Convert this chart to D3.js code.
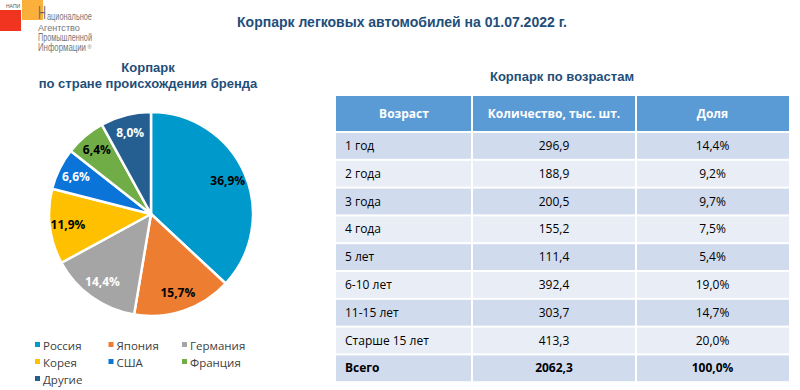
<!DOCTYPE html>
<html>
<head>
<meta charset="utf-8">
<script src="https://cdn.jsdelivr.net/npm/d3@7"></script>
<style>
  body { margin: 0; background: #fff; }
  svg { display: block; }
  .ttl { font-family: "Liberation Sans", Arial, sans-serif; font-weight: bold; fill: #1F4E79; }
  .cal { font-family: "Open Sans", "Noto Sans", sans-serif; }
</style>
</head>
<body>
<div id="chart"></div>
<script>
// pie: share of car park by brand origin country
var countries = ['Россия', 'Япония', 'Германия', 'Корея', 'США', 'Франция', 'Другие'];
var shares = [36.9, 15.7, 14.4, 11.9, 6.6, 6.4, 8.0];
var sliceColors = ['#0099CC', '#ED7D31', '#A5A5A5', '#FFC000', '#0A74D8', '#70AD47', '#255E91'];
var labelColors = ['#000', '#000', '#fff', '#000', '#fff', '#000', '#fff'];

// table: car park by age
var tableHead = ['Возраст', 'Количество, тыс. шт.', 'Доля'];
var ages = ['1 год', '2 года', '3 года', '4 года', '5 лет', '6-10 лет', '11-15 лет', 'Старше 15 лет', 'Всего'];
var counts = ['296,9', '188,9', '200,5', '155,2', '111,4', '392,4', '303,7', '413,3', '2062,3'];
var ageShares = ['14,4%', '9,2%', '9,7%', '7,5%', '5,4%', '19,0%', '14,7%', '20,0%', '100,0%'];

var svg = d3.select('#chart').append('svg')
  .attr('width', 800)
  .attr('height', 390);

// logo
var logoFont = 'Liberation Sans, sans-serif';
svg.append('rect').attr('x', 22).attr('y', 0).attr('width', 21).attr('height', 20).attr('fill', '#FBB03B');
svg.append('rect').attr('x', 0).attr('y', 10).attr('width', 21).attr('height', 21).attr('fill', '#F0341F');
svg.append('text').attr('x', 6).attr('y', 8).attr('font-size', 5)
  .attr('font-family', logoFont).attr('fill', '#555').text('НАПИ');

// condensed logo lettering: squeeze each line horizontally to its width
var logoItems = [
  { t: 'Н', x: 38, y: 18.5, size: 18, w: 8, c: '#6b6b6b' },
  { t: 'ациональное', x: 47, y: 19.5, size: 10, w: 45, c: '#777' },
  { t: 'Агентство', x: 38, y: 30.8, size: 9.5, w: 42, c: '#777' },
  { t: 'Промышленной', x: 38, y: 40.8, size: 10, w: 54, c: '#777' },
  { t: 'Информации', x: 38, y: 50.8, size: 10, w: 48, c: '#777' },
  { t: '®', x: 87.5, y: 48.5, size: 5, w: 4, c: '#777' }
];
svg.selectAll('.logo').data(logoItems).enter().append('text')
  .attr('class', 'logo')
  .attr('font-family', logoFont)
  .attr('font-size', function (d) { return d.size; })
  .attr('fill', function (d) { return d.c; })
  .text(function (d) { return d.t; })
  .attr('transform', function (d) {
    var k = d.w / this.getComputedTextLength();
    return 'translate(' + d.x + ',' + d.y + ') scale(' + k + ',1)';
  });

svg.append('text').attr('class', 'ttl')
  .attr('x', 402).attr('y', 27).attr('text-anchor', 'middle').attr('font-size', 14)
  .text('Корпарк легковых автомобилей на 01.07.2022 г.');

// pie
svg.append('text').attr('class', 'ttl').attr('x', 148).attr('y', 72)
  .attr('text-anchor', 'middle').attr('font-size', 13).text('Корпарк');
svg.append('text').attr('class', 'ttl').attr('x', 148).attr('y', 88)
  .attr('text-anchor', 'middle').attr('font-size', 13).text('по стране происхождения бренда');

var cx = 151, cy = 214, r = 102;
var pie = d3.pie().sort(null).value(function (d) { return d; });
var arcs = pie(shares);
var arc = d3.arc().innerRadius(0).outerRadius(r);
var labelArc = d3.arc().innerRadius(r * 0.82).outerRadius(r * 0.82);

var g = svg.append('g').attr('transform', 'translate(' + cx + ',' + cy + ')');
g.selectAll('path').data(arcs).enter().append('path')
  .attr('d', arc)
  .attr('fill', function (d, i) { return sliceColors[i]; })
  .attr('stroke', '#fff')
  .attr('stroke-width', 2.5)
  .attr('stroke-linejoin', 'round');

g.selectAll('.lbl').data(arcs).enter().append('text')
  .attr('class', 'lbl cal')
  .attr('transform', function (d) { return 'translate(' + labelArc.centroid(d) + ')'; })
  .attr('text-anchor', 'middle')
  .attr('dy', '0.35em')
  .attr('font-size', 12)
  .attr('font-weight', 'bold')
  .attr('fill', function (d, i) { return labelColors[i]; })
  .text(function (d, i) { return shares[i].toFixed(1).replace('.', ',') + '%'; });

var legend = svg.selectAll('.leg').data(countries).enter().append('g')
  .attr('class', 'leg')
  .attr('transform', function (d, i) {
    return 'translate(' + (35 + (i % 3) * 73.5) + ',' + (346 + Math.floor(i / 3) * 17) + ')';
  });
legend.append('rect').attr('x', 0).attr('y', -4).attr('width', 5).attr('height', 5)
  .attr('fill', function (d, i) { return sliceColors[i]; });
legend.append('text').attr('class', 'cal').attr('x', 8).attr('y', 0).attr('dy', '0.35em')
  .attr('font-size', 11.5).attr('fill', '#404040').text(function (d) { return d; });

// table
svg.append('text').attr('class', 'ttl').attr('x', 562).attr('y', 81)
  .attr('text-anchor', 'middle').attr('font-size', 13).text('Корпарк по возрастам');

var colX = [336, 472, 636, 789];
var headTop = 96, headH = 35, rowTop = 133, rowH = 27.8, gap = 2;

var rows = ages.map(function (a, i) { return [a, counts[i], ageShares[i]]; });

var head = svg.append('g');
tableHead.forEach(function (h, j) {
  head.append('rect')
    .attr('x', colX[j] + (j ? 1 : 0)).attr('y', headTop)
    .attr('width', colX[j + 1] - colX[j] - (j ? 1 : 0) - (j < 2 ? 1 : 0)).attr('height', headH)
    .attr('fill', '#5B9BD5');
  head.append('text').attr('class', 'cal')
    .attr('x', (colX[j] + colX[j + 1]) / 2).attr('y', headTop + headH / 2).attr('dy', '0.35em')
    .attr('text-anchor', 'middle').attr('font-size', 12).attr('font-weight', 'bold')
    .attr('fill', '#fff').text(h);
});

var tr = svg.selectAll('.row').data(rows).enter().append('g')
  .attr('class', 'row')
  .attr('transform', function (d, i) { return 'translate(0,' + (rowTop + i * rowH) + ')'; });

[0, 1, 2].forEach(function (j) {
  tr.append('rect')
    .attr('x', colX[j] + (j ? 1 : 0)).attr('y', 0)
    .attr('width', colX[j + 1] - colX[j] - (j ? 1 : 0) - (j < 2 ? 1 : 0))
    .attr('height', rowH - gap)
    .attr('fill', function (d, i) { return i % 2 === 0 ? '#D0DBEE' : '#E9EDF5'; });
  tr.append('text').attr('class', 'cal')
    .attr('x', j === 0 ? colX[0] + 9 : (colX[j] + colX[j + 1]) / 2)
    .attr('y', (rowH - gap) / 2).attr('dy', '0.35em')
    .attr('text-anchor', j === 0 ? 'start' : 'middle')
    .attr('font-size', 12)
    .attr('font-weight', function (d, i) { return i === rows.length - 1 ? 'bold' : 'normal'; })
    .attr('fill', '#000')
    .text(function (d) { return d[j]; });
});
</script>
</body>
</html>
